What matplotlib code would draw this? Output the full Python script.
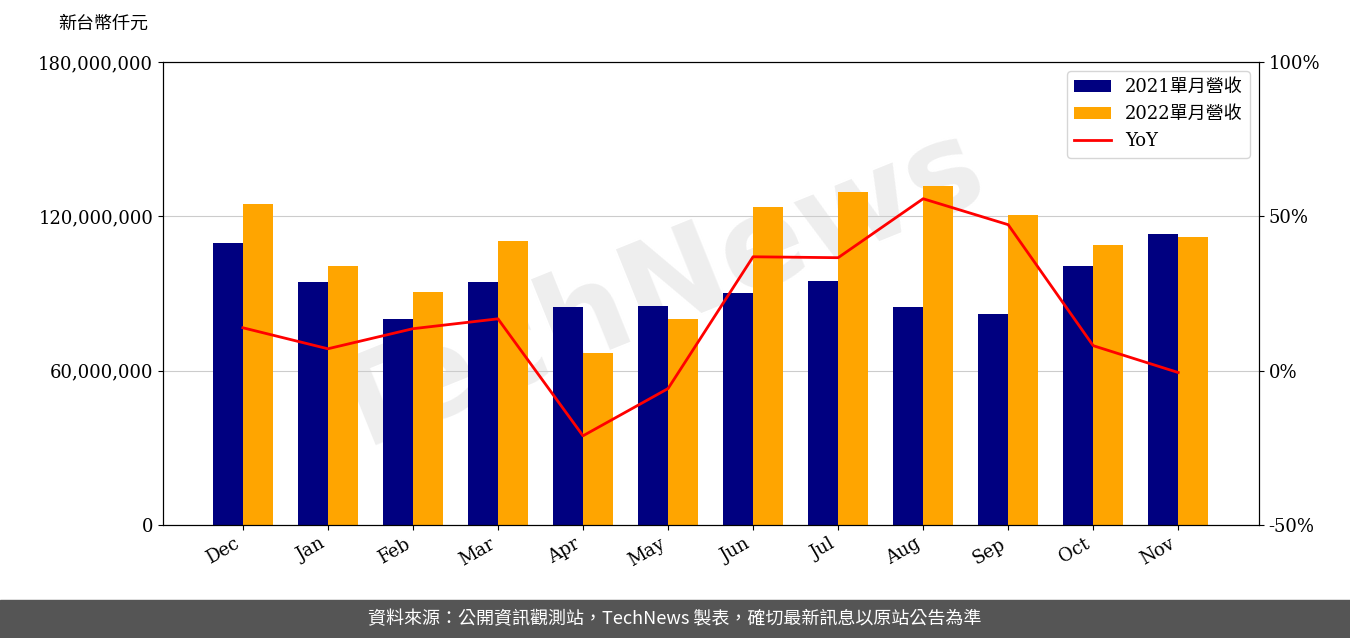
import matplotlib
matplotlib.use("Agg")
import matplotlib.pyplot as plt
import numpy as np
from matplotlib.ticker import FuncFormatter

months = ["Dec","Jan","Feb","Mar","Apr","May","Jun","Jul","Aug","Sep","Oct","Nov"]
rev2021 = [109.6,94.5,80.1,94.5,84.8,85.1,90.2,94.9,84.8,82.0,100.7,113.1]
rev2022 = [124.8,100.7,90.6,110.4,66.9,80.1,123.6,129.5,131.8,120.5,108.9,112.0]
yoy = [13.9,7.1,13.6,16.8,-21.1,-5.8,36.9,36.6,55.7,47.3,8.1,-0.6]

plt.rcParams['font.family'] = ['DejaVu Serif', 'Noto Sans CJK TC']
fig = plt.figure(figsize=(13.5,6.38), dpi=100)
ax = fig.add_axes([0.1207,0.1771,0.8119,0.7257])
x = np.arange(len(months))
w = 0.35
a1 = np.array(rev2021)*1e6; a2 = np.array(rev2022)*1e6
b1 = ax.bar(x-w/2, a1, w, color='#000080', label='2021單月營收', zorder=2)
b2 = ax.bar(x+w/2, a2, w, color='#FFA500', label='2022單月營收', zorder=2)
ax.set_ylim(0,180e6)
ax.set_yticks([0,60e6,120e6,180e6])
ax.yaxis.set_major_formatter(FuncFormatter(lambda v,p: f"{int(v):,}"))
ax.grid(axis='y', color='#cccccc', zorder=0)
ax.set_xticks(x)
ax.set_xticklabels(months, rotation=30, ha='right')
ax.set_xlim(-0.94, 11.95)
ax.tick_params(labelsize=13)
ax.text(0.45,0.5,'TechNews', transform=ax.transAxes, fontsize=90, color='#dddddd', alpha=0.5,
        rotation=22, ha='center', va='center', fontweight='bold', family=['DejaVu Sans'], zorder=1)
ax2 = ax.twinx()
l, = ax2.plot(x, yoy, color='red', lw=2, label='YoY')
ax2.set_ylim(-50,100)
ax2.set_yticks([-50,0,50,100])
ax2.yaxis.set_major_formatter(FuncFormatter(lambda v,p: f"{int(v)}%"))
ax2.tick_params(labelsize=13)
ax2.legend([b1,b2,l],['2021單月營收','2022單月營收','YoY'], loc='upper right', fontsize=13)
fig.text(0.043,0.955,'新台幣仟元', fontsize=13, family=['Noto Sans CJK TC'])
fig.patches.append(plt.Rectangle((0,0),1,0.0596, transform=fig.transFigure, color='#555555', zorder=0))
fig.text(0.5,0.0298,'資料來源：公開資訊觀測站，TechNews 製表，確切最新訊息以原站公告為準',
         color='white', fontsize=13, ha='center', va='center', family=['Noto Sans CJK TC','DejaVu Sans'])
fig.savefig('out.png')
